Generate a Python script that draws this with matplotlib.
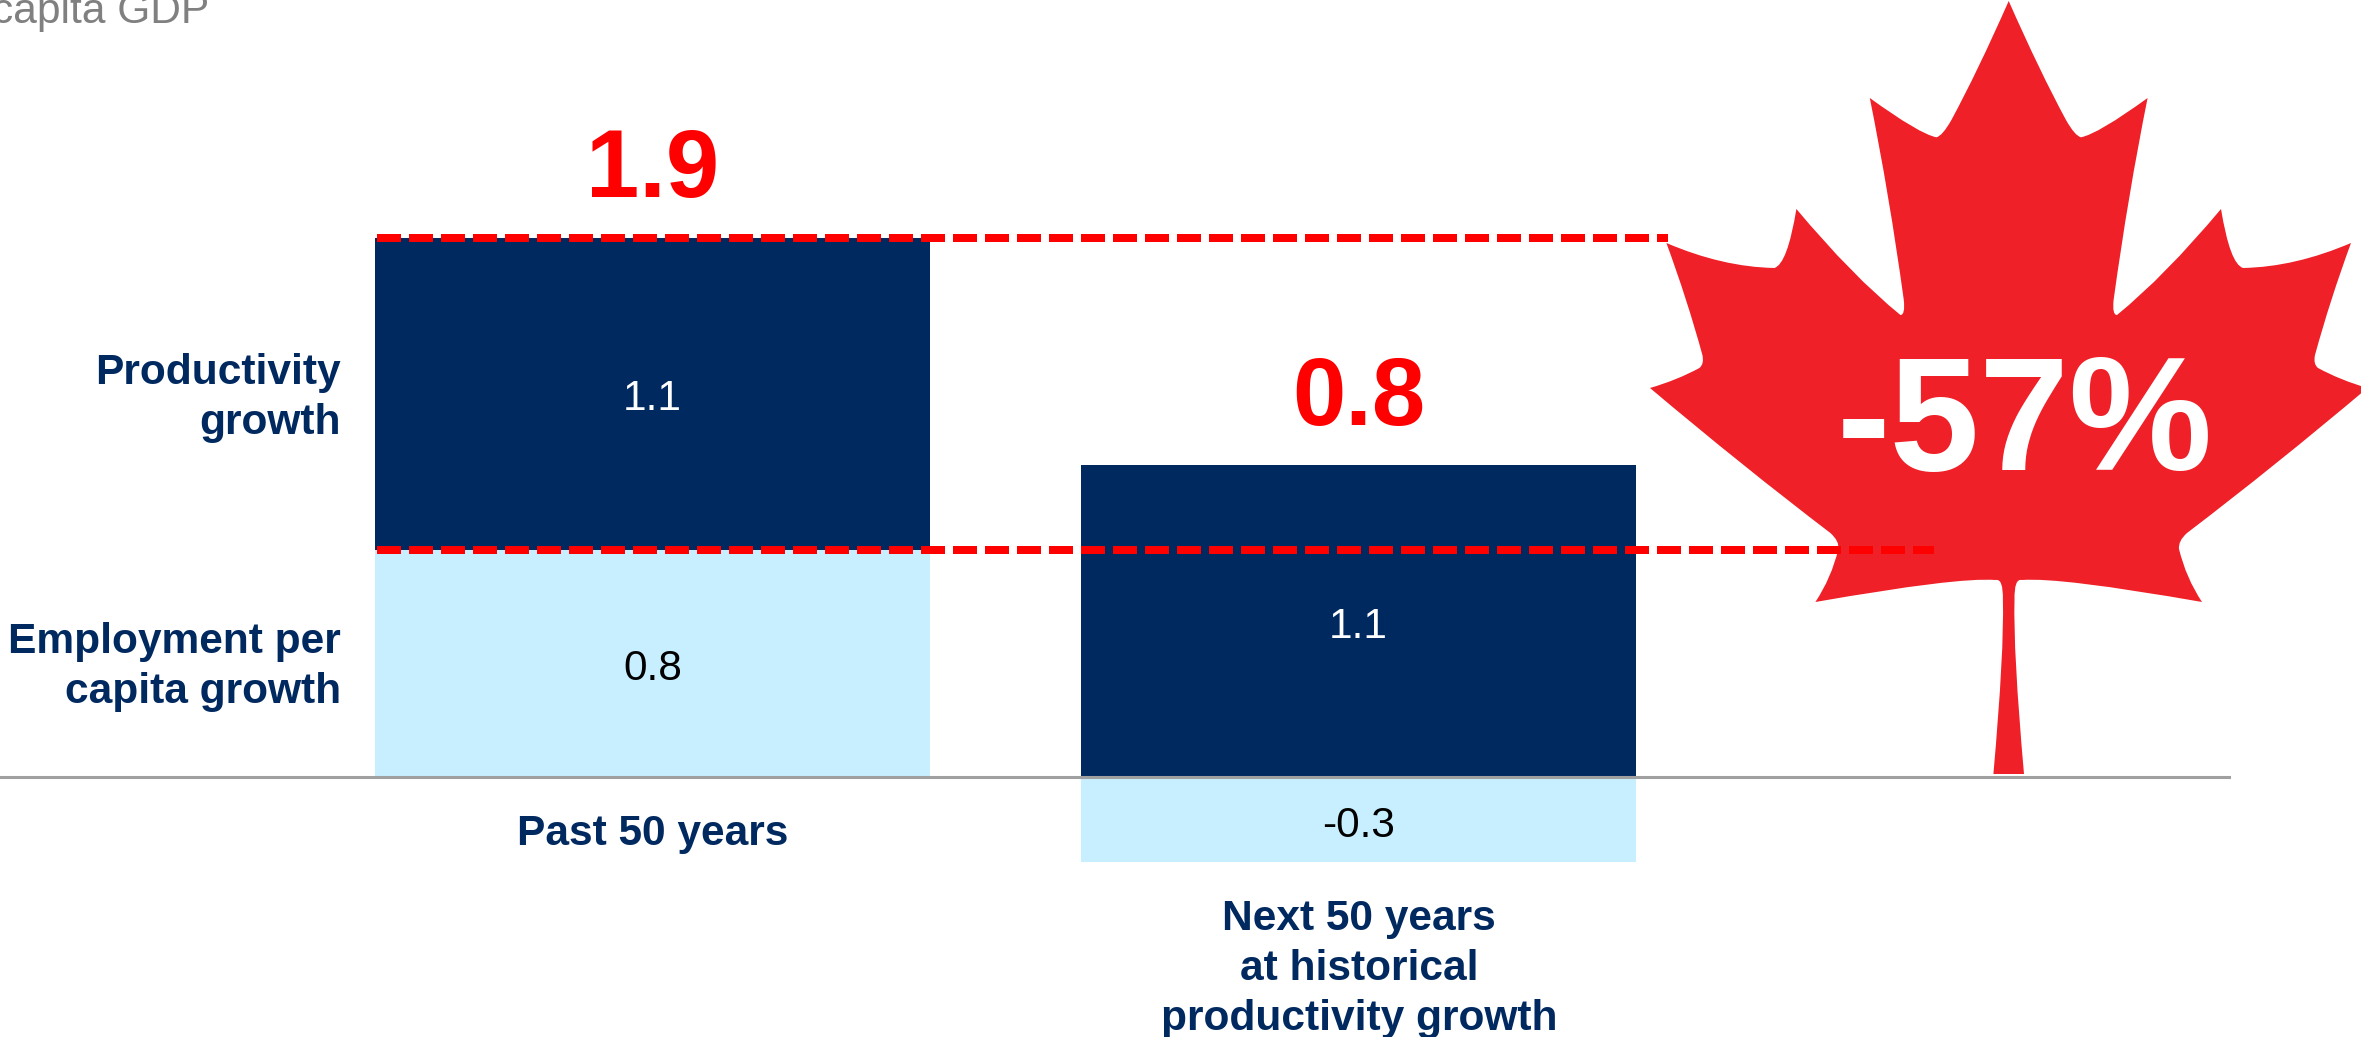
import matplotlib
matplotlib.use("Agg")
import matplotlib.pyplot as plt
from matplotlib.path import Path
from matplotlib.patches import PathPatch
from matplotlib.transforms import Affine2D

plt.rcParams['font.family'] = ['Liberation Sans', 'DejaVu Sans']

W, H = 2361, 1037
NAVY = '#002960'
LIGHT = '#C8EFFF'
RED = '#FF0000'
LEAF_RED = '#EF2027'

# data
periods = ['Past 50 years', 'Next 50 years\nat historical\nproductivity growth']
productivity = [1.1, 1.1]
employment = [0.8, -0.3]
totals = [1.9, 0.8]
series_names = ['Productivity\ngrowth', 'Employment per\ncapita growth']
change_label = '-57%'
subtitle = 'capita GDP'

fig = plt.figure(figsize=(W / 100, H / 100), dpi=100)
ax = fig.add_axes([0, 0, 1, 1])
ax.set_xlim(-0.9242, 2.4200)
ax.set_ylim(-0.9165, 2.739)
ax.axis('off')

# pixels of the reference, y going down
px = Affine2D().scale(1, -1).translate(0, H) + Affine2D().scale(1 / W, 1 / H) + fig.transFigure

# maple leaf, right half from the top tip to the foot of the stem (curve control / end points)
half_leaf = [
    (2008.7, 1),
    (2040, 72), (2066, 120),
    (2075, 136), (2081, 137.3),
    (2098, 134), (2147.6, 98),
    (2128, 195), (2113.6, 300),
    (2112, 315), (2117, 315),
    (2165, 276), (2221, 209),
    (2230, 264), (2243, 268),
    (2295, 267), (2351, 243),
    (2330, 300), (2315, 355),
    (2313, 364), (2318, 368),
    (2340, 380), (2367.4, 388),
    (2275, 466), (2187, 533),
    (2178, 541), (2179, 549),
    (2186, 578), (2202, 602),
    (2060, 577), (2022, 580),
    (2014, 578), (2014.5, 600),
    (2013, 650), (2024, 774),
]
mirror_x = 2 * half_leaf[0][0]
other_half = [(mirror_x - x, y) for x, y in reversed(half_leaf)]
n = len(half_leaf)
codes = [Path.MOVETO] + [Path.CURVE3] * (n - 1) + [Path.LINETO] + [Path.CURVE3] * (n - 1)
ax.add_patch(PathPatch(Path(half_leaf + other_half, codes), facecolor=LEAF_RED, edgecolor='none',
                       transform=px, zorder=1))

# bars
xs = [0, 1]
bar_w = 0.786
ax.bar(xs[0], employment[0], bar_w, color=LIGHT, zorder=2)
ax.bar(xs[0], productivity[0], bar_w, bottom=employment[0], color=NAVY, zorder=2)
ax.bar(xs[1], employment[1], bar_w, color=LIGHT, zorder=2)
ax.bar(xs[1], productivity[1], bar_w, color=NAVY, zorder=2)

# baseline
ax.plot([0, 2229], [777, 777], color='#A0A0A0', lw=2.2, transform=px, zorder=3)

# dashed guides at the two levels
x_start = (377 - 652.5) / 706
x_end_top = (1668 - 652.5) / 706
x_end_low = (1934 - 652.5) / 706
ax.plot([x_start, x_end_top], [totals[0], totals[0]], color=RED, lw=5.76,
        dashes=(3, 1), dash_capstyle='butt', zorder=4)
ax.plot([x_start, x_end_low], [employment[0], employment[0]], color=RED, lw=5.76,
        dashes=(3, 1), dash_capstyle='butt', zorder=4)

# value labels
ax.text(xs[0], 1.294, '%.1f' % productivity[0], color='white', fontsize=30.5, ha='center', va='baseline', zorder=5)
ax.text(xs[0], 0.342, '%.1f' % employment[0], color='black', fontsize=30.5, ha='center', va='baseline', zorder=5)
ax.text(xs[1], 0.49, '%.1f' % productivity[1], color='white', fontsize=30.5, ha='center', va='baseline', zorder=5)
ax.text(xs[1], -0.213, '%.1f' % employment[1], color='black', fontsize=30.5, ha='center', va='baseline', zorder=5)

# totals
ax.text(xs[0], 2.044, '%.1f' % totals[0], color=RED, fontsize=69, fontweight='bold', ha='center', va='baseline', zorder=5)
ax.text(xs[1], 1.241, '%.1f' % totals[1], color=RED, fontsize=69, fontweight='bold', ha='center', va='baseline', zorder=5)

# row labels
ax.text(341, 434, series_names[0], color=NAVY, fontsize=30.6, fontweight='bold', ha='right', va='baseline',
        linespacing=1.33, transform=px)
ax.text(341, 703, series_names[1], color=NAVY, fontsize=30.6, fontweight='bold', ha='right', va='baseline',
        linespacing=1.33, transform=px)

# period labels
ax.text(653, 845, periods[0], color=NAVY, fontsize=30.6, fontweight='bold', ha='center', va='baseline', transform=px)
ax.text(1359, 1030, periods[1], color=NAVY, fontsize=30.6, fontweight='bold', ha='center', va='baseline',
        linespacing=1.33, transform=px)

ax.text(2025, 470, change_label, color='white', fontsize=116, fontweight='bold', ha='center', va='baseline',
        transform=px, zorder=5)
ax.text(209, 23, subtitle, color='#808080', fontsize=30.6, ha='right', va='baseline', transform=px)

fig.savefig('out.png', dpi=100)
